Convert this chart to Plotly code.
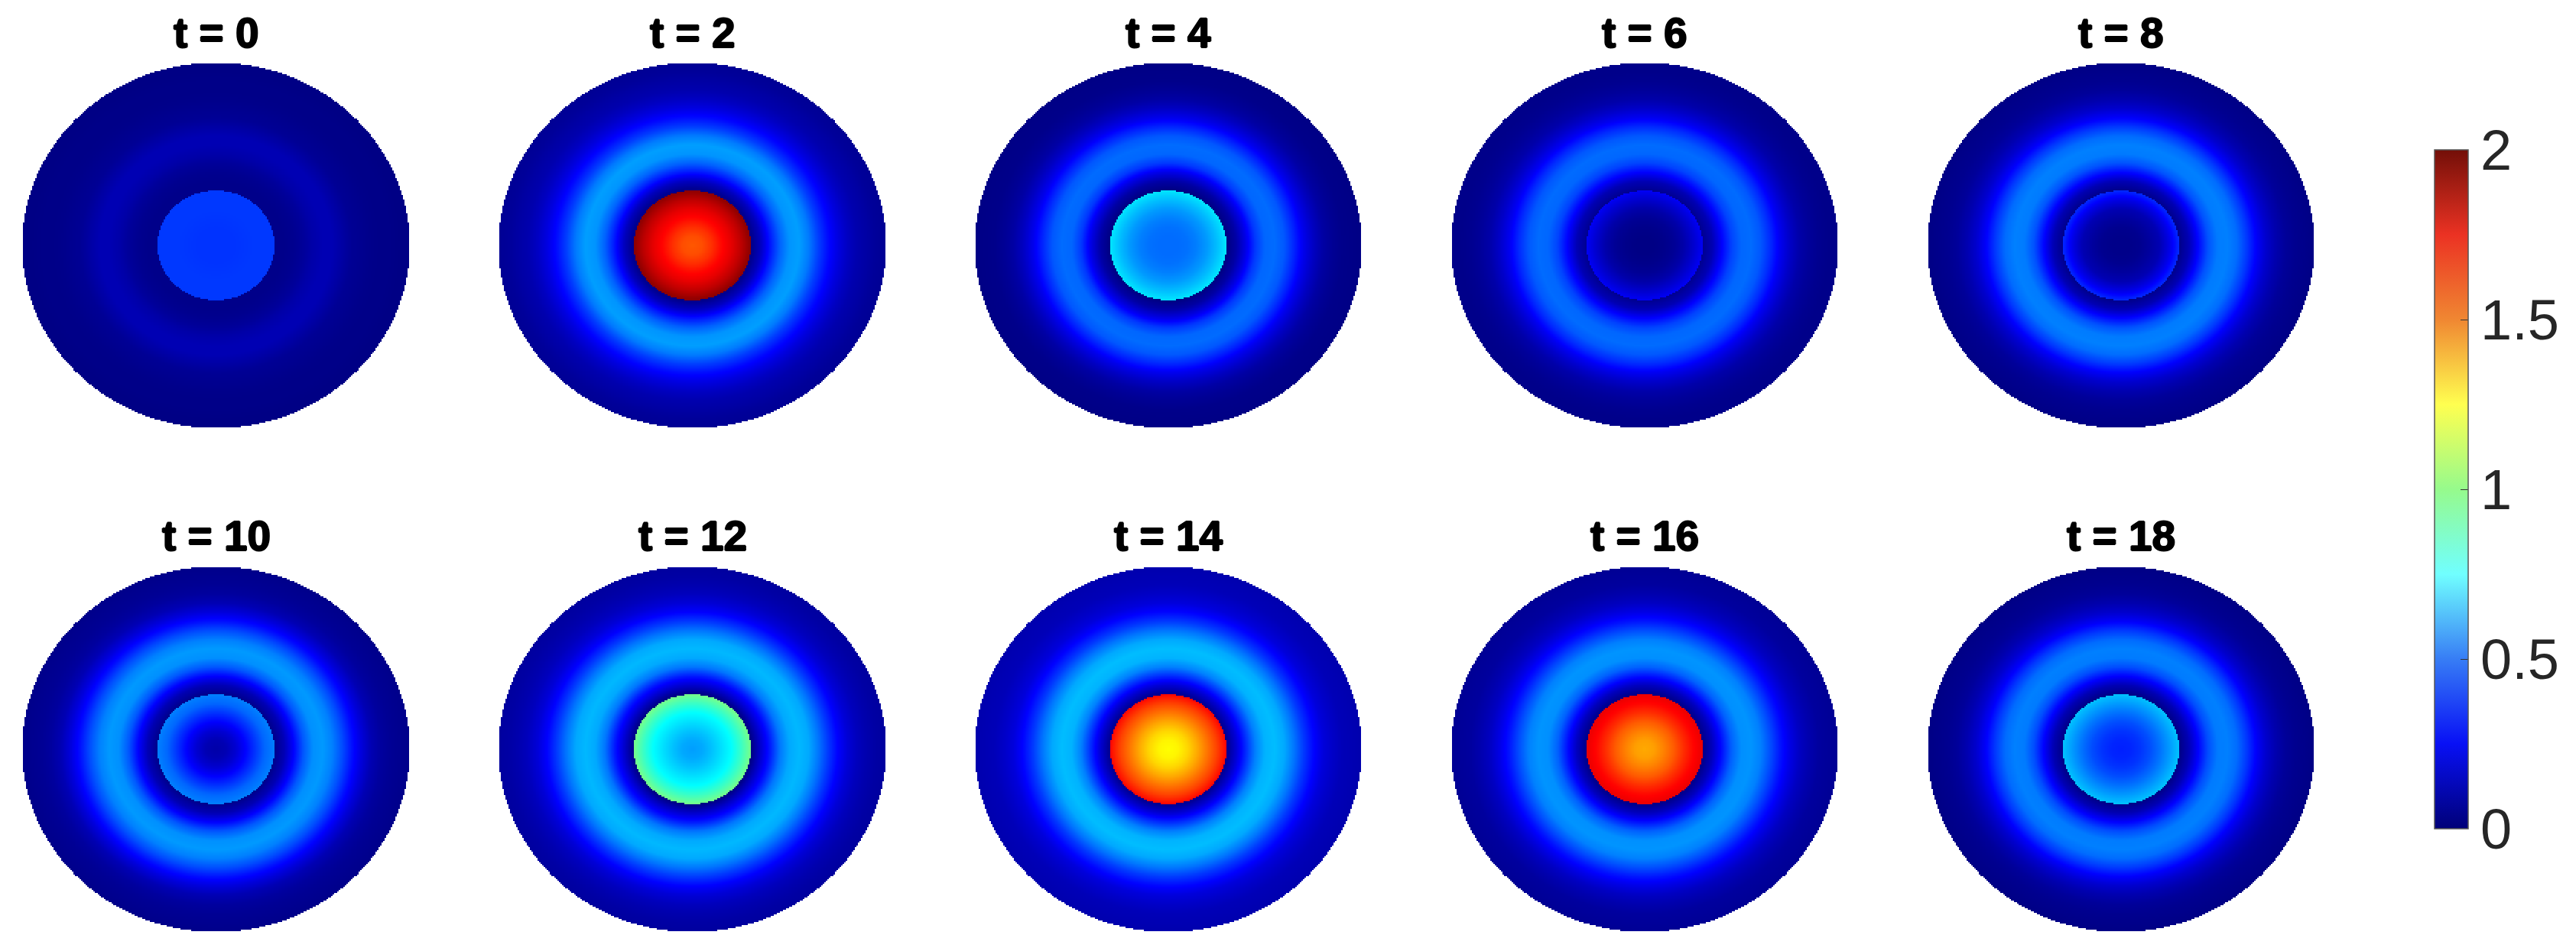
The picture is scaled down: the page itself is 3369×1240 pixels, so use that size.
import numpy as np
import plotly.graph_objects as go

W, H = 3369, 1240

times = [0, 2, 4, 6, 8, 10, 12, 14, 16, 18]
col_centres = [282.5, 905.5, 1528, 2151, 2774]
row_centres = [320.7, 979.5]
half_w, half_h = 253.5, 239

# radial positions (fraction of the outer radius) at which the colours were read
r_inner = [0, .05, .10, .15, .20, .25, .30]
r_outer = [.30, .35, .40, .45, .50, .55, .60, .65, .70, .75, .80, .85, .90, .95, 1.0]

inner_t0 = [.35, .35, .35, .355, .36, .36, .36]
outer_t0 = [.02, .02, .03, .05, .08, .10, .10, .07, .04, .03, .02, .015, .015, .01, .01]
inner_t2 = [1.58, 1.60, 1.66, 1.74, 1.80, 1.88, 1.98]
outer_t2 = [.01, .12, .29, .44, .54, .56, .49, .37, .27, .19, .13, .09, .07, .05, .04]
inner_t4 = [.46, .46, .47, .50, .55, .62, .70]
outer_t4 = [.00, .07, .20, .36, .45, .46, .42, .32, .21, .13, .07, .04, .02, .015, .01]
inner_t6 = [.01, .01, .02, .04, .08, .15, .23]
outer_t6 = [.03, .10, .25, .38, .45, .46, .42, .33, .22, .14, .08, .05, .03, .02, .02]
inner_t8 = [.02, .02, .03, .06, .10, .20, .33]
outer_t8 = [.02, .10, .26, .41, .49, .50, .46, .36, .24, .15, .09, .05, .03, .02, .01]
inner_t10 = [.08, .10, .16, .25, .35, .45, .50]
outer_t10 = [.02, .10, .25, .42, .53, .55, .50, .40, .28, .18, .10, .06, .04, .03, .02]
inner_t12 = [.56, .58, .63, .69, .75, .86, .98]
outer_t12 = [.00, .15, .30, .48, .58, .61, .58, .48, .36, .25, .17, .12, .09, .07, .06]
inner_t14 = [1.25, 1.27, 1.33, 1.42, 1.52, 1.62, 1.74]
outer_t14 = [.02, .16, .33, .50, .60, .62, .58, .48, .36, .26, .18, .14, .11, .10, .09]
inner_t16 = [1.42, 1.44, 1.50, 1.57, 1.66, 1.74, 1.79]
outer_t16 = [.01, .12, .28, .44, .53, .54, .50, .40, .29, .20, .13, .09, .06, .05, .04]
inner_t18 = [.31, .32, .35, .40, .47, .55, .63]
outer_t18 = [.01, .10, .25, .40, .49, .50, .46, .36, .24, .15, .09, .05, .03, .02, .01]

inner_profiles = [inner_t0, inner_t2, inner_t4, inner_t6, inner_t8,
                  inner_t10, inner_t12, inner_t14, inner_t16, inner_t18]
outer_profiles = [outer_t0, outer_t2, outer_t4, outer_t6, outer_t8,
                  outer_t10, outer_t12, outer_t14, outer_t16, outer_t18]

tick_vals = [0, 0.5, 1, 1.5, 2]
tick_text = ["0", "0.5", "1", "1.5", "2"]

jet = [[0, "rgb(0,0,128)"], [.125, "rgb(0,0,255)"], [.25, "rgb(0,128,255)"],
       [.375, "rgb(0,255,255)"], [.5, "rgb(128,255,128)"], [.625, "rgb(255,255,0)"],
       [.75, "rgb(255,128,0)"], [.875, "rgb(255,0,0)"], [1, "rgb(128,0,0)"]]
jet_bar = [[0, "rgb(0,0,120)"], [.125, "rgb(8,16,245)"], [.25, "rgb(55,125,245)"],
           [.375, "rgb(112,255,255)"], [.5, "rgb(150,250,140)"], [.625, "rgb(255,255,80)"],
           [.75, "rgb(240,135,50)"], [.875, "rgb(235,50,35)"], [1, "rgb(115,15,8)"]]

# pixel grid of the disc: field value per grid cell, shaded between the read rings
nx, ny = 254, 240
gx = np.linspace(-1, 1, nx)
gy = np.linspace(-1, 1, ny)
XX, YY = np.meshgrid(gx, gy)
RR = np.hypot(XX, YY)


def field(inner, outer):
    z = np.where(RR < r_inner[-1], np.interp(RR, r_inner, inner), np.interp(RR, r_outer, outer))
    z = np.where(RR <= 1, z, np.nan)
    return np.round(z, 3).astype(np.float32)


fig = go.Figure()
layout = {}
annotations = []
for i, t in enumerate(times):
    cx = col_centres[i % 5]
    cy = row_centres[i // 5]
    suffix = "" if i == 0 else str(i + 1)
    layout["xaxis" + suffix] = dict(domain=[(cx - half_w) / W, (cx + half_w) / W], range=[-1, 1],
                                    visible=False, anchor="y" + suffix, fixedrange=True)
    layout["yaxis" + suffix] = dict(domain=[1 - (cy + half_h) / H, 1 - (cy - half_h) / H], range=[-1, 1],
                                    visible=False, anchor="x" + suffix, fixedrange=True)
    fig.add_trace(go.Heatmap(x=gx, y=gy, z=field(inner_profiles[i], outer_profiles[i]),
                             colorscale=jet, zmin=0, zmax=2, showscale=False,
                             xaxis="x" + suffix, yaxis="y" + suffix, hoverinfo="skip"))
    annotations.append(dict(text="<b>t = %d</b>" % t, xref="paper", yref="paper",
                            x=cx / W, y=1 - (cy - 278) / H, xanchor="center", yanchor="middle",
                            showarrow=False,
                            font=dict(family="Liberation Sans", size=55, color="black",
                                      shadow="1px 0 0 black, -1px 0 0 black, 0 1px 0 black, 0 -1px 0 black")))

fig.add_trace(go.Scatter(x=[None, None], y=[None, None], mode="markers", xaxis="x", yaxis="y",
                         hoverinfo="skip", showlegend=False,
                         marker=dict(color=[0, 2], cmin=0, cmax=2, colorscale=jet_bar, showscale=True,
                                     colorbar=dict(x=3184 / W, xanchor="left", xref="paper",
                                                   y=1 - 640 / H, yanchor="middle", yref="paper",
                                                   thickness=44, thicknessmode="pixels",
                                                   len=888, lenmode="pixels", xpad=0, ypad=0,
                                                   outlinecolor="#555555", outlinewidth=1.5,
                                                   tickmode="array", tickvals=tick_vals, ticktext=tick_text,
                                                   tickprefix="\u200a",
                                                   ticks="inside", ticklen=10, tickwidth=1, tickcolor="#333333",
                                                   tickfont=dict(family="Liberation Sans", size=74, color="#262626")))))

fig.update_layout(width=W, height=H, margin=dict(l=0, r=0, t=0, b=0), paper_bgcolor="white",
                  plot_bgcolor="white", showlegend=False, annotations=annotations, **layout)
fig.write_html("out.html", config={"displayModeBar": False}, post_script="document.body.style.margin='0';")
